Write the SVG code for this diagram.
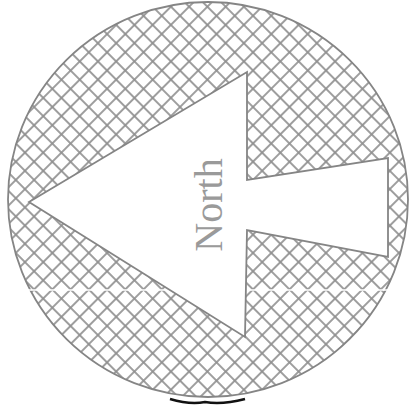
<svg xmlns="http://www.w3.org/2000/svg" width="413" height="414" viewBox="0 0 413 414">
  <defs>
    <pattern id="hatch" patternUnits="userSpaceOnUse" width="12.9" height="12.9" patternTransform="translate(253,107) rotate(45)">
      <line x1="0" y1="0" x2="12.9" y2="0" stroke="#8e8e8e" stroke-width="1.7"/>
      <line x1="0" y1="0" x2="0" y2="12.9" stroke="#8e8e8e" stroke-width="1.7"/>
      <line x1="0" y1="12.9" x2="12.9" y2="12.9" stroke="#8e8e8e" stroke-width="1.7"/>
      <line x1="12.9" y1="0" x2="12.9" y2="12.9" stroke="#8e8e8e" stroke-width="1.7"/>
    </pattern>
    <style>
      .outline { stroke: #858585; stroke-width: 1.8; }
      .label { font-family: "Liberation Serif", "Times New Roman", serif; font-size: 40px; fill: #9a9a9a; }
    </style>
  </defs>
  <rect width="413" height="414" fill="#ffffff"/>
  <g id="disc">
    <ellipse cx="208" cy="199.5" rx="200" ry="197.5" fill="url(#hatch)" class="outline"/>
    <line x1="20" y1="290" x2="400" y2="290" stroke="#ffffff" stroke-width="1.3"/>
    <path d="M170,399 Q190,405 205,402 Q222,405 245,399" fill="none" stroke="#111111" stroke-width="2.6"/>
  </g>
  <g id="arrow">
    <polygon points="29,202 247,72 247,180 388,158 388,257 247,230 245,337" fill="#ffffff" class="outline" stroke-linejoin="miter"/>
    <text class="label" text-anchor="middle" transform="translate(221.5,205) rotate(-90)">North</text>
  </g>
</svg>
